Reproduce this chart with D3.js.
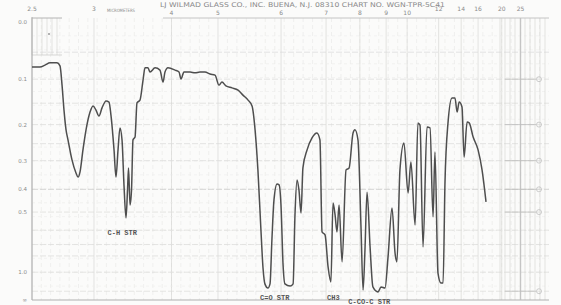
<!DOCTYPE html>
<html>
<head>
<meta charset="utf-8">
<script src="https://cdn.jsdelivr.net/npm/d3@7"></script>
<style>
  html, body { margin: 0; padding: 0; background: #fbfbfa; }
  svg { display: block; }
  .lbl { font-family: "DejaVu Sans", sans-serif; fill: #8a8a8a; }
  .note { font-family: "Liberation Mono", monospace; font-weight: bold; fill: #555; }
</style>
</head>
<body>
<svg id="chart" width="561" height="305"></svg>
<script>
// wavenumber (cm-1) of each traced point
const wavenumbers = [
  4000, 3914, 3860, 3806, 3731, 3699, 3677, 3656, 3634, 3613, 3570, 3527, 3505, 3484,
  3452, 3419, 3376, 3344, 3312, 3280, 3247, 3204, 3172, 3151, 3118, 3097, 3075, 3054,
  3032, 3011, 2989, 2973, 2962, 2946, 2930, 2914, 2892, 2871, 2839, 2806, 2785, 2753,
  2731, 2677, 2624, 2591, 2570, 2538, 2462, 2419, 2398, 2366, 2301, 2247, 2194, 2140,
  2086, 2032, 1995, 1979, 1958, 1926, 1894, 1868, 1841, 1820, 1804, 1789, 1773, 1762,
  1752, 1736, 1725, 1715, 1704, 1688, 1677, 1667, 1656, 1646, 1619, 1603, 1593, 1582,
  1572, 1561, 1551, 1529, 1503, 1477, 1461, 1450, 1434, 1418, 1403, 1392, 1381, 1371,
  1360, 1344, 1323, 1307, 1286, 1276, 1260, 1244, 1233, 1223, 1212, 1196, 1181, 1154,
  1138, 1117, 1101, 1080, 1064, 1054, 1038, 1017, 995, 980, 958, 943, 932, 916,
  895, 879, 863, 853, 837, 821, 810, 800, 784, 763, 747, 736, 725, 710,
  699, 683, 672, 651, 625, 604, 583
];
// percent transmittance at those points
const transmittance = [
  83.8, 83.8, 84.5, 85.3, 85.3, 84.2, 77.3, 68.3, 61.2, 57.6, 50.4, 45.7, 44.2, 46.0,
  54.0, 61.2, 67.6, 69.8, 68.3, 66.2, 69.1, 71.6, 71.2, 66.5, 54.0, 44.2, 54.0, 61.9,
  57.6, 41.4, 29.5, 39.6, 47.5, 34.2, 39.6, 57.6, 58.6, 70.9, 71.9, 79.1, 83.5, 83.5,
  82.0, 83.5, 82.7, 78.4, 82.0, 83.5, 82.7, 82.0, 79.5, 82.0, 82.0, 81.7, 82.0, 82.0,
  81.3, 80.9, 77.3, 78.4, 77.0, 76.3, 75.5, 73.7, 71.9, 69.8, 61.2, 46.8, 25.2, 11.5,
  5.8, 4.3, 5.8, 21.6, 36.0, 41.7, 41.4, 34.2, 12.6, 5.8, 5.0, 5.8, 30.6, 43.2,
  39.6, 31.3, 47.5, 54.0, 58.3, 60.1, 57.6, 24.5, 23.4, 11.9, 6.5, 34.9, 30.6, 24.5,
  34.2, 13.7, 46.8, 47.5, 60.1, 61.2, 57.6, 26.3, 3.6, 18.0, 38.8, 19.1, 4.7, 2.9,
  4.7, 4.3, 15.5, 33.1, 16.9, 13.7, 46.8, 56.5, 38.5, 49.6, 27.0, 63.7, 62.9, 19.1,
  62.2, 61.9, 29.9, 53.2, 9.7, 6.1, 6.1, 42.1, 63.7, 72.7, 72.7, 67.6, 71.2, 69.4,
  51.4, 64.0, 63.7, 58.6, 54.0, 46.8, 35.3
];
// top axis, micrometers
const micronTicks = [2.5, 3, 4, 5, 6, 7, 8, 9, 10, 12, 14, 16, 20, 25];
// left axis, absorbance
const absorbanceTicks = [0.0, 0.1, 0.2, 0.3, 0.4, 0.5, 1.0];
const absorbanceGrid = [0.05, 0.1, 0.15, 0.2, 0.25, 0.3, 0.4, 0.5, 0.6, 0.7, 0.8, 1.0, 1.5];
// right edge pen marks, absorbance
const markerAbsorbance = [0.1, 0.2, 0.3, 0.4, 0.5, 1.5];
const bandNotes = [
  { wn: 3030, text: "C-H STR" },
  { wn: 1700, text: "C=O STR" },
  { wn: 1390, text: "CH3" },
  { wn: 1200, text: "C-CO-C STR" }
];

const svg = d3.select('#chart');

// chart is linear in wavenumber with a 2x scale change at 2000 cm-1
const x = d3.scaleLinear().domain([4000, 2000, 250]).range([32, 218, 549]);
const y = d3.scaleLinear().domain([0, 100]).range([300, 22]);
const absY = (a) => y(100 * Math.pow(10, -a));

// grid
const grid = svg.append('g');
const minorWn = d3.range(3900, 2000, -100).concat(d3.range(1950, 250, -50));
minorWn.forEach((w) => {
  grid.append('line')
    .attr('x1', x(w)).attr('x2', x(w))
    .attr('y1', 18).attr('y2', 300)
    .attr('stroke', '#e8e8e6').attr('stroke-width', 0.6)
    .attr('stroke-dasharray', '4,3');
});
micronTicks.forEach((m) => {
  grid.append('line')
    .attr('x1', x(1e4 / m)).attr('x2', x(1e4 / m))
    .attr('y1', 18).attr('y2', 300)
    .attr('stroke', '#d8d8d6').attr('stroke-width', 0.7);
});
d3.range(5, 100, 5).forEach((t) => {
  grid.append('line')
    .attr('x1', 32).attr('x2', 549)
    .attr('y1', y(t)).attr('y2', y(t))
    .attr('stroke', '#ededeb').attr('stroke-width', 0.6)
    .attr('stroke-dasharray', '3,3');
});
absorbanceGrid.forEach((a) => {
  grid.append('line')
    .attr('x1', 32).attr('x2', 549)
    .attr('y1', absY(a)).attr('y2', absY(a))
    .attr('stroke', a === 0.4 ? '#c6c6c4' : '#dadad8').attr('stroke-width', 0.7)
    .attr('stroke-dasharray', '6,2');
});

// denser boxes at the top left and right edge
[[32, 62], [500, 549]].forEach((r) => {
  d3.range(r[0], r[1], 5).forEach((px) => {
    grid.append('line')
      .attr('x1', px).attr('x2', px).attr('y1', 18).attr('y2', r[0] === 32 ? 55 : 300)
      .attr('stroke', '#d4d4d2').attr('stroke-width', 0.6);
  });
});
grid.append('line').attr('x1', 32).attr('x2', 62).attr('y1', 55).attr('y2', 55)
  .attr('stroke', '#c8c8c6').attr('stroke-width', 0.7);
svg.append('circle').attr('cx', 49).attr('cy', 34).attr('r', 1)
  .attr('fill', '#999');

// frame
svg.append('line').attr('x1', 32).attr('x2', 32).attr('y1', 17).attr('y2', 300)
  .attr('stroke', '#aaa').attr('stroke-width', 1);
svg.append('line').attr('x1', 32).attr('x2', 549).attr('y1', 300).attr('y2', 300)
  .attr('stroke', '#b0b0b0').attr('stroke-width', 1);
svg.append('line').attr('x1', 32).attr('x2', 62).attr('y1', 18).attr('y2', 18)
  .attr('stroke', '#b4b4b4').attr('stroke-width', 1);
svg.append('line').attr('x1', 163).attr('x2', 549).attr('y1', 18).attr('y2', 18)
  .attr('stroke', '#c4c4c4').attr('stroke-width', 1);
svg.append('line').attr('x1', x(400)).attr('x2', x(400)).attr('y1', 18).attr('y2', 300)
  .attr('stroke', '#c0c0c0').attr('stroke-width', 1);

// pen marks on the right edge
markerAbsorbance.forEach((a) => {
  svg.append('line').attr('x1', 505).attr('x2', 536).attr('y1', absY(a)).attr('y2', absY(a))
    .attr('stroke', '#bdbdbb').attr('stroke-width', 0.8);
  svg.append('circle').attr('cx', 539).attr('cy', absY(a)).attr('r', 2.5)
    .attr('fill', 'none').attr('stroke', '#bbb').attr('stroke-width', 0.7);
});

// header
svg.append('text').attr('class', 'lbl')
  .attr('x', 160).attr('y', 7).attr('font-size', 6.5)
  .attr('textLength', 285).attr('lengthAdjust', 'spacingAndGlyphs')
  .text('LJ WILMAD GLASS CO., INC.   BUENA, N.J. 08310   CHART NO. WGN-TPR-5C41');
svg.append('text').attr('class', 'lbl')
  .attr('x', 107).attr('y', 12).attr('font-size', 4.5)
  .attr('textLength', 28).attr('lengthAdjust', 'spacingAndGlyphs')
  .text('MICROMETERS');

// top axis labels
micronTicks.forEach((m) => {
  svg.append('text').attr('class', 'lbl')
    .attr('x', x(1e4 / m)).attr('y', (m >= 4 && m <= 10) ? 15 : 11)
    .attr('text-anchor', 'middle').attr('font-size', 6)
    .text(m);
});

// left axis labels
absorbanceTicks.forEach((a) => {
  svg.append('text').attr('class', 'lbl')
    .attr('x', 27).attr('y', absY(a) + 2)
    .attr('text-anchor', 'end').attr('font-size', 5.5)
    .text(a.toFixed(1));
});
svg.append('text').attr('class', 'lbl')
  .attr('x', 27).attr('y', 302).attr('text-anchor', 'end').attr('font-size', 5.5)
  .text('∞');

// spectrum
const line = d3.line()
  .x((d, i) => x(wavenumbers[i]))
  .y((d) => y(d))
  .curve(d3.curveMonotoneX);

svg.append('path')
  .datum(transmittance)
  .attr('d', line)
  .attr('fill', 'none')
  .attr('stroke', '#4e4e4e')
  .attr('stroke-width', 1.5)
  .attr('stroke-linejoin', 'round');

// band notes
bandNotes.forEach((n, i) => {
  svg.append('text').attr('class', 'note')
    .attr('x', x(n.wn)).attr('y', i === 0 ? 235 : (i === 3 ? 304 : 300))
    .attr('text-anchor', 'middle').attr('font-size', 7)
    .text(n.text);
});
</script>
</body>
</html>
